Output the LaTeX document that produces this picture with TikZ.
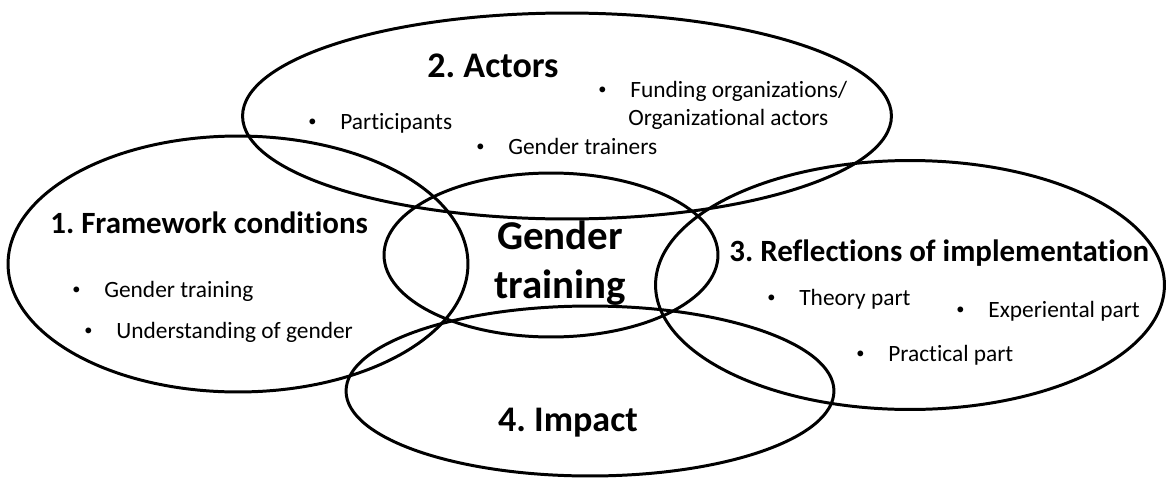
\documentclass[tikz,border=0pt]{standalone}
\usepackage{fontspec}
\setmainfont{Carlito}[Ligatures=NoCommon]
\usetikzlibrary{shapes.geometric}

\newcommand{\itm}[1]{\makebox[0.64cm][l]{\raisebox{0.22ex}{\scalebox{0.7}{\textbullet}}}#1}

\begin{document}
\frenchspacing
\begin{tikzpicture}[x=0.02cm, y=-0.02cm,
        area/.style = {ellipse, draw=black, line width=1.7pt, inner sep=0pt},
        head/.style = {anchor=base, inner sep=0pt, font=\fontsize{20.5}{24}\selectfont\bfseries},
        subhead/.style = {anchor=base west, inner sep=0pt, font=\fontsize{17.6}{21}\selectfont\bfseries},
        item/.style = {anchor=base west, inner sep=0pt, font=\fontsize{13.3}{13.3}\selectfont}]
    \useasboundingbox (0,0) rectangle (1170,477);

    \node[area, minimum width=12.98cm, minimum height=4.12cm] (actors) at (567,116) {};
    \node[area, minimum width=9.2cm, minimum height=5.12cm] (frame) at (238,264) {};
    \node[area, minimum width=6.68cm, minimum height=3.28cm] (centre) at (551,255) {};
    \node[area, minimum width=10.18cm, minimum height=4.98cm] (refl) at (910,285) {};
    \node[area, minimum width=9.76cm, minimum height=3.4cm] (impact) at (590,391) {};

    \node[head] (actorshead) at (493,77) {2. Actors};
    \node[item] (fund) at (598,97) {\itm{Funding organizations/}};
    \node[item] (orgs) at (628,125) {Organizational actors};
    \node[item] (part) at (308,129) {\itm{Participants}};
    \node[item] (trainers) at (476,154) {\itm{Gender trainers}};

    \node[subhead] (framehead) at (50,233) {1. Framework conditions};
    \node[item] (training) at (72,297) {\itm{Gender training}};
    \node[item] (underst) at (84,338) {\itm{Understanding of gender}};

    \node[font=\fontsize{23.3}{27.9}\selectfont\bfseries, align=center] (gender) at (560,263) {Gender\\training};

    \node[subhead] (reflhead) at (729,261) {3. Reflections of implementation};
    \node[item] (theory) at (767,305) {\itm{Theory part}};
    \node[item] (exper) at (956,317) {\itm{Experiental part}};
    \node[item] (pract) at (856,361) {\itm{Practical part}};

    \node[head] (impacthead) at (568,431) {4. Impact};
\end{tikzpicture}
\end{document}
